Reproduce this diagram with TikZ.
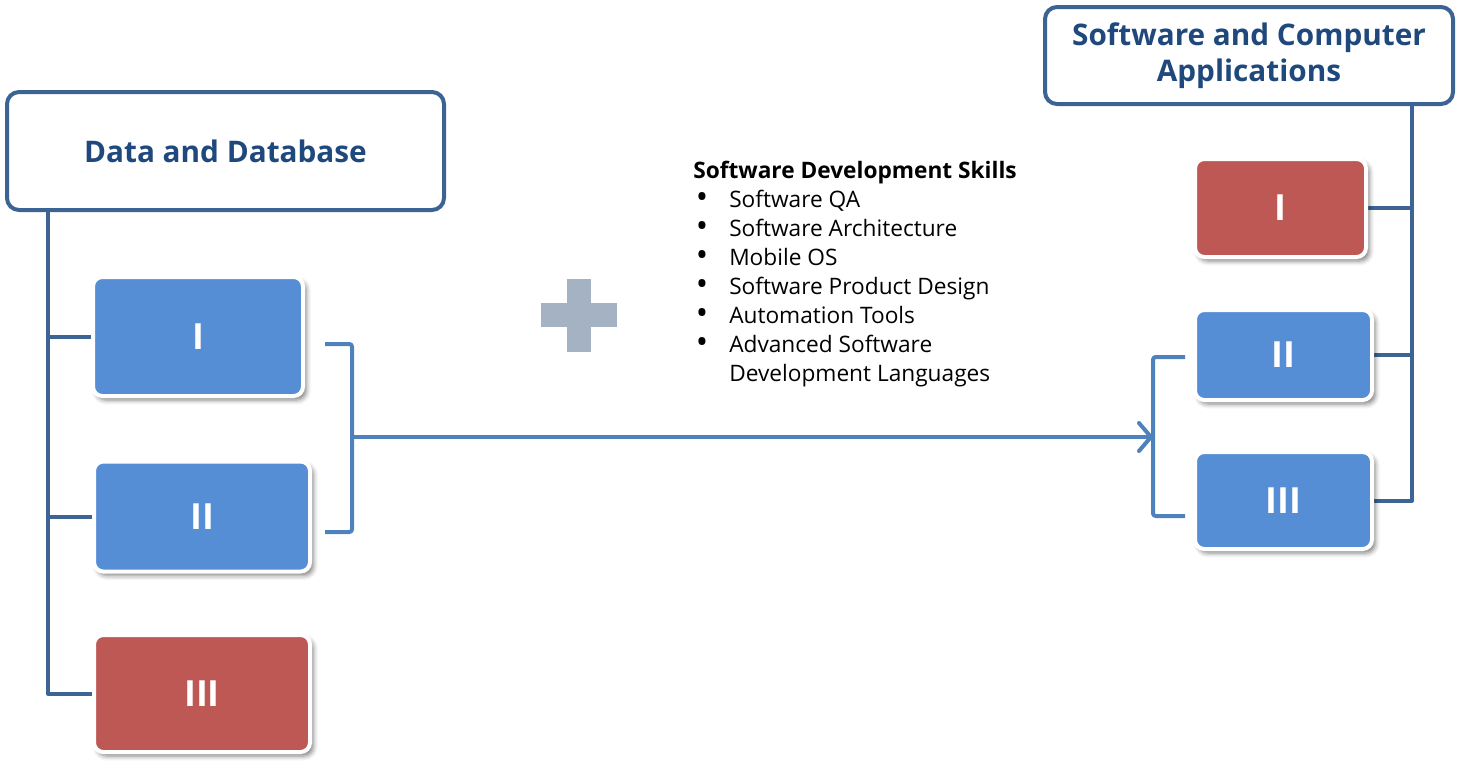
\documentclass[tikz,border=0pt]{standalone}
\usepackage{fontspec}
\setmainfont{Open Sans}
\usetikzlibrary{arrows.meta,shadows.blur,backgrounds,calc}
\definecolor{hdrline}{RGB}{59,100,148}
\definecolor{hdrtext}{RGB}{31,73,125}
\definecolor{trunk}{RGB}{60,101,149}
\definecolor{flow}{RGB}{79,129,189}
\definecolor{boxblue}{RGB}{85,142,213}
\definecolor{boxred}{RGB}{190,88,85}
\definecolor{plusgray}{RGB}{165,178,195}
\begin{document}
\begin{tikzpicture}[x=0.75pt,y=-0.75pt,
 header/.style={draw=hdrline, line width=3pt, rounded corners=9pt, fill=white, text=hdrtext,
   font=\fontsize{22.3}{27}\selectfont\bfseries, align=center, inner sep=0pt},
 item/.style={draw=white, line width=3pt, rounded corners=7pt, text=white,
   font=\fontsize{27}{30}\selectfont\bfseries, inner sep=0pt,
   blur shadow={shadow xshift=2.5pt, shadow yshift=-3pt, shadow blur radius=3.5pt, shadow opacity=50}},
 blueitem/.style={item, fill=boxblue},
 reditem/.style={item, fill=boxred},
 trunkline/.style={draw=trunk, line width=3pt, line join=round},
 flowline/.style={draw=flow, line width=3pt, line join=round, rounded corners=2pt},
]
\useasboundingbox (0,0) rectangle (1460,765);

% headers
\node[header, minimum width=327.75pt, minimum height=88.5pt] (lh) at (225.5,151) {Data and Database};
\node[header, minimum width=306pt, minimum height=72.75pt] (rh) at (1249,55.5) {Software and Computer\\Applications};

% left boxes
\node[blueitem, minimum width=157.5pt, minimum height=89.25pt] (l1) at (198,336.5) {I};
\node[blueitem, minimum width=162pt, minimum height=82.5pt] (l2) at (202,516.5) {II};
\node[reditem, minimum width=162pt, minimum height=87.75pt] (l3) at (202,693.5) {III};

% right boxes
\node[reditem, minimum width=128.25pt, minimum height=73.5pt] (r1) at (1280.5,208) {I};
\node[blueitem, minimum width=132.75pt, minimum height=67.5pt] (r2) at (1283.5,355) {II};
\node[blueitem, minimum width=132.75pt, minimum height=72.75pt] (r3) at (1283.5,500.5) {III};

% plus sign
\fill[plusgray] (567,279) rectangle (591,352);
\fill[plusgray] (541,303) rectangle (617,327);

% skills text
\newcommand{\bul}{\hspace{2pt}\smash{\raisebox{-0.6pt}{\scalebox{1.45}{•}}}}
\node[anchor=north west, align=left, inner sep=0pt, font=\fontsize{17}{21.75}\selectfont] (skills) at (693,158) {%
\begin{tabular}{@{}p{27pt}@{}l@{}}
\multicolumn{2}{@{}l@{}}{\bfseries Software Development Skills}\\
\bul & Software QA\\
\bul & Software Architecture\\
\bul & Mobile OS\\
\bul & Software Product Design\\
\bul & Automation Tools\\
\bul & Advanced Software\\
 & Development Languages
\end{tabular}};

\coordinate (lt) at (48,0);
\coordinate (rt) at (1412,0);
\coordinate (lb1) at (325,344);
\coordinate (lb2) at (325,532);
\coordinate (lbx) at (352,0);
\coordinate (lm) at (352,437);
\coordinate (rm) at (1153,437);
\coordinate (rb1) at (1185,357);
\coordinate (rb2) at (1185,516);

\begin{scope}[on background layer]
\draw[trunkline] (lh.south -| lt) |- (l3.west);
\draw[trunkline] (l1.west -| lt) -- (l1.west);
\draw[trunkline] (l2.west -| lt) -- (l2.west);
\draw[trunkline] (rh.south -| rt) |- (r3.east);
\draw[trunkline] (r1.east) -- (r1.east -| rt);
\draw[trunkline] (r2.east) -- (r2.east -| rt);
\end{scope}

\draw[flowline] (lb1) -- (lb1 -| lbx) -- (lb2 -| lbx) -- (lb2);
\draw[flowline] (rb1) -- (rb1 -| rm) -- (rb2 -| rm) -- (rb2);
\draw[draw=flow, line width=3pt, -{Straight Barb[length=9pt, width=21pt, line cap=round, line join=round]}] (lm) -- (rm);
\end{tikzpicture}
\end{document}
